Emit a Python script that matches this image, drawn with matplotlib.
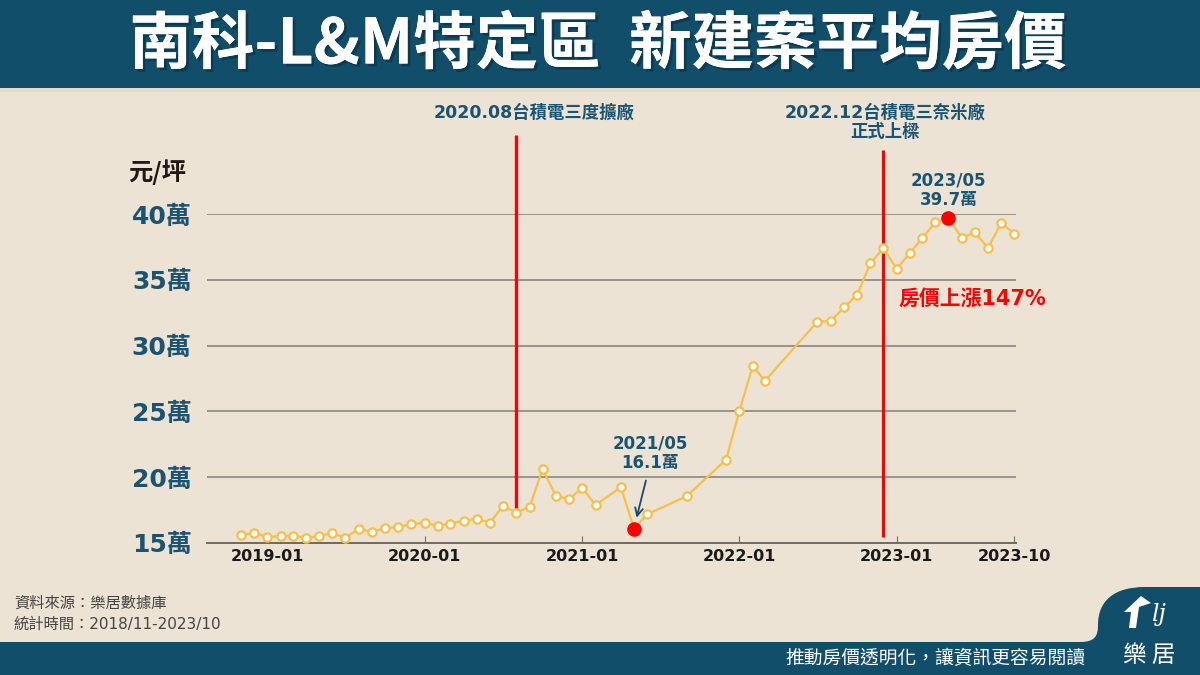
import matplotlib
matplotlib.use("Agg")
import matplotlib.pyplot as plt
import matplotlib.patheffects as pe
from matplotlib.path import Path
from matplotlib.patches import PathPatch, Rectangle, Polygon
import pandas as pd

plt.rcParams['font.family'] = ['Noto Sans CJK TC', 'DejaVu Sans']
NUMFONT = ['DejaVu Sans', 'Noto Sans CJK TC']

# ---------------- data ----------------
months = ["2018-11", "2018-12", "2019-01", "2019-02", "2019-03", "2019-04", "2019-05",
          "2019-06", "2019-07", "2019-08", "2019-09", "2019-10", "2019-11", "2019-12",
          "2020-01", "2020-02", "2020-03", "2020-04", "2020-05", "2020-06", "2020-07",
          "2020-08", "2020-09", "2020-10", "2020-11", "2020-12", "2021-01", "2021-02",
          "2021-04", "2021-05", "2021-06", "2021-09", "2021-12", "2022-01", "2022-02",
          "2022-03", "2022-07", "2022-08", "2022-09", "2022-10", "2022-11", "2022-12",
          "2023-01", "2023-02", "2023-03", "2023-04", "2023-05", "2023-06", "2023-07",
          "2023-08", "2023-09", "2023-10"]
prices = [15.61, 15.76, 15.46, 15.53, 15.56, 15.40, 15.53,
          15.76, 15.40, 16.06, 15.84, 16.12, 16.22, 16.44,
          16.54, 16.32, 16.47, 16.70, 16.83, 16.54, 17.82,
          17.31, 17.75, 20.60, 18.60, 18.32, 19.18, 17.89,
          19.24, 16.10, 17.18, 18.57, 21.33, 25.04, 28.46,
          27.32, 31.82, 31.87, 32.90, 33.87, 36.24, 37.41,
          35.84, 37.03, 38.17, 39.36, 39.70, 38.17, 38.63,
          37.41, 39.33, 38.50]
highlight_months = ["2021-05", "2023-05"]
highlight_labels = ["2021/05\n16.1萬", "2023/05\n39.7萬"]
event_months = ["2020-08", "2022-12"]
event_labels = ["2020.08台積電三度擴廠", "2022.12台積電三奈米廠\n正式上樑"]
ytick_vals = [15, 20, 25, 30, 35, 40]
ytick_labels = ["15萬", "20萬", "25萬", "30萬", "35萬", "40萬"]
xtick_months = ["2019-01", "2020-01", "2021-01", "2022-01", "2023-01", "2023-10"]

title = "南科-L&M特定區  新建案平均房價"
y_unit = "元/坪"
rise_text = "房價上漲147%"
source_lines = ["資料來源：樂居數據庫", "統計時間：2018/11-2023/10"]
slogan = "推動房價透明化，讓資訊更容易閱讀"
brand = "樂 居"

# ---------------- colours ----------------
BG = "#ece3d4"
DARK = "#114e6a"
BLUE_TXT = "#1a5472"
LINE = "#f6c04c"
RED = "#ff0000"
GRID = "#837d77"

dates = pd.to_datetime(months)
hl_dates = pd.to_datetime(highlight_months)
hl_vals = [prices[months.index(m)] for m in highlight_months]

W, H = 1200, 675
fig = plt.figure(figsize=(12, 6.75), dpi=100, facecolor=BG)

# background / decoration axes in pixel coordinates
bg = fig.add_axes([0, 0, 1, 1], zorder=0)
bg.set_xlim(0, W)
bg.set_ylim(H, 0)
bg.axis("off")
bg.set_facecolor(BG)
bg.add_patch(Rectangle((0, 0), W, 88, color=DARK, lw=0))
bg.add_patch(Rectangle((0, 88), W, 4, color="#e4dccd", lw=0))
bg.add_patch(Rectangle((0, 642), W, 33, color=DARK, lw=0))
# logo bump
verts = [(1080, 642), (1095, 642), (1098, 636), (1098, 625),
         (1098, 600), (1115, 587), (1145, 587),
         (1200, 587), (1200, 675), (1080, 675), (1080, 642)]
codes = [Path.MOVETO, Path.CURVE4, Path.CURVE4, Path.CURVE4,
         Path.CURVE4, Path.CURVE4, Path.CURVE4,
         Path.LINETO, Path.LINETO, Path.LINETO, Path.CLOSEPOLY]
bg.add_patch(PathPatch(Path(verts, codes), facecolor=DARK, edgecolor="none"))
# simple house mark
bg.add_patch(Polygon([(1124, 612), (1141, 596), (1151, 603), (1139, 607),
                      (1136, 628), (1129, 628), (1131, 612)],
                     closed=True, facecolor="white", edgecolor="none"))
bg.text(1158, 614, "lj", color="white", fontsize=17, style="italic",
        family="DejaVu Serif", ha="center", va="center")
bg.text(1149, 655, brand, color="white", fontsize=17, ha="center", va="center")

bg.text(598, 45, title, color="white", fontsize=45, fontweight="bold",
        ha="center", va="center",
        path_effects=[pe.withSimplePatchShadow(offset=(2, -2), shadow_rgbFace="#0a2e40", alpha=0.6),
                      pe.Normal()])
bg.text(1085, 659, slogan, color="white", fontsize=13.5, ha="right", va="center")
bg.text(14, 603, source_lines[0], color="#444444", fontsize=11, ha="left", va="center")
bg.text(14, 624, source_lines[1], color="#444444", fontsize=11, ha="left", va="center",
        family=NUMFONT)
bg.text(157, 172, y_unit, color="#231815", fontsize=17.5, fontweight="bold",
        ha="center", va="center")

# ---------------- main chart ----------------
ax = fig.add_axes([207 / W, (H - 543) / H, 809 / W, (543 - 214) / H], zorder=2)
ax.set_facecolor("none")
ax.set_xlim(pd.Timestamp("2018-08-14"), pd.Timestamp("2023-10-05"))
ax.set_ylim(15, 40)

for v in ytick_vals[1:]:
    ax.axhline(v, color=GRID, lw=1.1, zorder=1)

for s in ["left", "top", "right"]:
    ax.spines[s].set_visible(False)
ax.spines["bottom"].set_color("#6d6964")
ax.spines["bottom"].set_linewidth(1.4)

ax.set_yticks(ytick_vals)
ax.set_yticklabels(ytick_labels, color=BLUE_TXT, fontsize=18, fontweight="bold",
                   family=NUMFONT)
ax.tick_params(axis="y", length=0, pad=11)

ax.set_xticks(pd.to_datetime(xtick_months))
ax.set_xticklabels(xtick_months, fontsize=11.5, fontweight="bold", color="#1a1a1a",
                   family=NUMFONT)
ax.tick_params(axis="x", direction="in", length=5, color="#6d6964", pad=4)

# event lines
ev_dates = pd.to_datetime(event_months)
ax.vlines(ev_dates[0], 17.28, 46.0, color=RED, lw=2.3, clip_on=False, zorder=3)
ax.vlines(ev_dates[1], 15.46, 44.85, color=RED, lw=2.3, clip_on=False, zorder=3)

# price line
ax.plot(dates, prices, color=LINE, lw=1.6, marker="o", markersize=6,
        markerfacecolor="white", markeredgecolor=LINE, markeredgewidth=1.6,
        clip_on=False, zorder=4)
ax.plot(hl_dates, hl_vals, linestyle="none", marker="o", markersize=9.5,
        color=RED, clip_on=False, zorder=5)

# highlight annotations
ax.annotate("", xy=(hl_dates[0], hl_vals[0]), xytext=(12, 48), textcoords="offset pixels",
            arrowprops=dict(arrowstyle="->", color="#1a4a66", lw=1.3,
                            shrinkA=0, shrinkB=8, mutation_scale=14))
ax.annotate(highlight_labels[0], xy=(hl_dates[0], hl_vals[0]), xytext=(16, 75),
            textcoords="offset pixels", ha="center", va="center", color=BLUE_TXT,
            fontsize=12, fontweight="bold", linespacing=1.1, family=NUMFONT)
ax.annotate(highlight_labels[1], xy=(hl_dates[1], hl_vals[1]), xytext=(0, 28),
            textcoords="offset pixels", ha="center", va="center", color=BLUE_TXT,
            fontsize=12, fontweight="bold", linespacing=1.1, family=NUMFONT)

# event labels (figure pixel positions)
bg.text(534, 113, event_labels[0], color=BLUE_TXT, fontsize=12.5, fontweight="bold",
        ha="center", va="center", family=NUMFONT)
bg.text(885, 122, event_labels[1], color=BLUE_TXT, fontsize=12.5, fontweight="bold",
        ha="center", va="center", linespacing=1.1, family=NUMFONT)
bg.text(972, 300, rise_text, color=RED, fontsize=15, fontweight="bold",
        ha="center", va="center", family=NUMFONT)

fig.savefig("out.png", dpi=100, facecolor=BG)
